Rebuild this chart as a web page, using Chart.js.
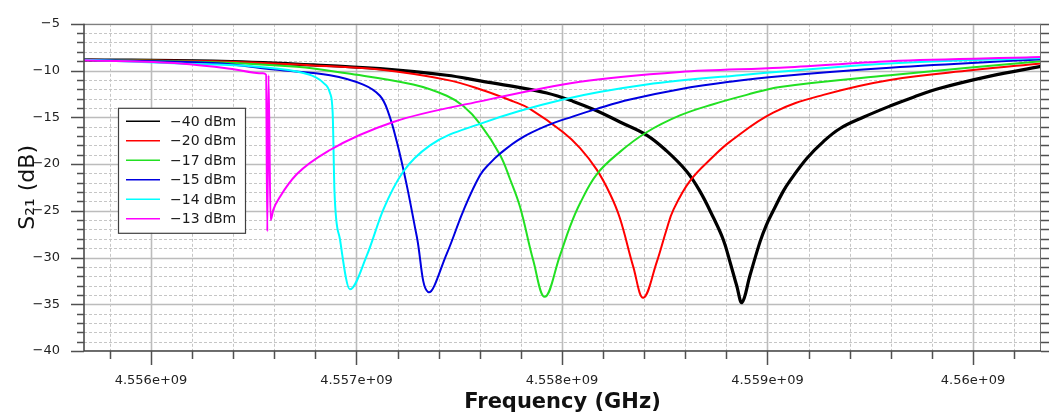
<!DOCTYPE html>
<html>
<head>
<meta charset="utf-8">
<script src="https://cdn.jsdelivr.net/npm/chart.js@4.4.1/dist/chart.umd.min.js"></script>
<style>
html,body{margin:0;padding:0;background:#fff;}
#wrap{position:relative;width:1051px;height:418px;}
</style>
</head>
<body>
<div id="wrap"><canvas id="c" width="1051" height="418"></canvas></div>
<script>
// ---- data (frequency in GHz, S21 in dB) ----
const seriesLabels = ['\u221240 dBm', '\u221220 dBm', '\u221217 dBm', '\u221215 dBm', '\u221214 dBm', '\u221213 dBm'];
const seriesColors = ['#000000', '#ff0000', '#22e022', '#0000e0', '#00ffff', '#ff00ff'];

const s40 = [[4.555674,-8.85],[4.556300,-9.0],[4.556790,-9.4],[4.557114,-9.8],[4.557439,-10.5],[4.557601,-11.1],[4.557763,-11.7],[4.557926,-12.4],[4.558055,-13.3],[4.558169,-14.3],[4.558282,-15.5],[4.558412,-16.9],[4.558509,-18.6],[4.558607,-20.8],[4.558671,-22.9],[4.558736,-25.7],[4.558785,-28.1],[4.558818,-30.5],[4.558850,-33.0],[4.558876,-34.8],[4.558915,-31.9],[4.558964,-28.3],[4.558995,-26.5],[4.559028,-25.0],[4.559077,-22.9],[4.559109,-21.8],[4.559191,-19.4],[4.559272,-17.6],[4.559353,-16.2],[4.559466,-15.0],[4.559596,-13.8],[4.559710,-12.85],[4.559839,-11.9],[4.560083,-10.6],[4.560331,-9.55]];
const s20 = [[4.555674,-8.85],[4.556300,-9.0],[4.556790,-9.45],[4.557114,-9.9],[4.557439,-11.0],[4.557601,-12.0],[4.557763,-13.3],[4.557844,-14.1],[4.558006,-16.6],[4.558088,-18.3],[4.558169,-20.6],[4.558234,-23.2],[4.558282,-25.8],[4.558347,-31.0],[4.558396,-34.3],[4.558461,-30.5],[4.558509,-27.0],[4.558542,-24.9],[4.558623,-21.8],[4.558736,-19.2],[4.558818,-17.6],[4.559028,-14.5],[4.559272,-12.6],[4.559596,-11.0],[4.560001,-9.95],[4.560331,-9.25]];
const s17 = [[4.555674,-8.85],[4.556300,-9.1],[4.556709,-9.6],[4.556952,-10.3],[4.557276,-11.5],[4.557439,-12.7],[4.557520,-13.8],[4.557601,-15.7],[4.557698,-19.0],[4.557747,-21.6],[4.557796,-24.6],[4.557860,-30.3],[4.557917,-34.2],[4.557990,-29.8],[4.558039,-26.7],[4.558088,-24.2],[4.558169,-21.1],[4.558282,-18.7],[4.558412,-16.6],[4.558574,-14.8],[4.558736,-13.6],[4.558899,-12.6],[4.559061,-11.75],[4.559596,-10.5],[4.560331,-9.0]];
const s15 = [[4.555674,-8.85],[4.556300,-9.2],[4.556628,-9.95],[4.556871,-10.5],[4.557033,-11.5],[4.557114,-12.7],[4.557155,-14.5],[4.557196,-17.6],[4.557244,-22.2],[4.557293,-27.7],[4.557349,-33.7],[4.557439,-29.6],[4.557520,-25.0],[4.557601,-21.2],[4.557650,-19.9],[4.557698,-18.9],[4.557796,-17.3],[4.557926,-15.9],[4.558055,-14.9],[4.558169,-14.1],[4.558331,-13.1],[4.558574,-12.0],[4.558818,-11.2],[4.559061,-10.6],[4.559596,-9.7],[4.560331,-8.8]];
const s14 = [[4.555674,-8.85],[4.556141,-9.25],[4.556466,-9.5],[4.556709,-10.1],[4.556800,-10.7],[4.556838,-11.3],[4.556871,-12.4],[4.556884,-14.5],[4.556893,-23.0],[4.556920,-28.1],[4.556968,-33.4],[4.557050,-29.8],[4.557130,-24.9],[4.557228,-20.8],[4.557358,-18.0],[4.557601,-15.7],[4.558006,-13.1],[4.558412,-11.5],[4.558866,-10.5],[4.559596,-9.25],[4.560331,-8.65]];
const s13 = [[4.555674,-8.9],[4.556141,-9.25],[4.556384,-9.8],[4.556545,-10.3],[4.556560,-10.45],[4.556566,-27.2],[4.556572,-10.5],[4.556582,-26.0],[4.556595,-24.9],[4.556628,-23.5],[4.556709,-21.1],[4.556871,-18.5],[4.557179,-15.5],[4.557601,-13.3],[4.558088,-11.2],[4.558574,-10.15],[4.559061,-9.7],[4.559596,-9.0],[4.560331,-8.55]];
const seriesData = [s40, s20, s17, s15, s14, s13];
const seriesSteep = [false, false, false, false, true, true];

const xMin = 4.555674, xMax = 4.560331;
const yMin = -40, yMax = -5;
const xTickValues = [4.556, 4.557, 4.558, 4.559, 4.560];
const xTickLabels = ['4.556e+09', '4.557e+09', '4.558e+09', '4.559e+09', '4.56e+09'];
const yTickValues = [-5, -10, -15, -20, -25, -30, -35, -40];
const xTitle = 'Frequency (GHz)';
const yTitle = 'S\u2082\u2081 (dB)';

// ---- chart ----
const datasets = seriesData.map((d, i) => ({
  label: seriesLabels[i],
  data: d.map(p => ({x: p[0], y: p[1]})),
  borderColor: seriesColors[i],
  backgroundColor: seriesColors[i],
  borderWidth: i === 0 ? 3.2 : 2,
  pointRadius: 0,
  cubicInterpolationMode: seriesSteep[i] ? 'monotone' : 'default',
  tension: 0.4,
  fill: false
}));
datasets.forEach((d, i) => { d.order = datasets.length - i; });

const frame = {
  id: 'frame',
  beforeDatasetsDraw(chart) {
    const ctx = chart.ctx, a = chart.chartArea, xs = chart.scales.x, ys = chart.scales.y;
    ctx.save();
    ctx.beginPath(); ctx.rect(a.left, a.top, a.right - a.left, a.bottom - a.top); ctx.clip();
    for (let v = yMin; v <= yMax; v++) {
      const py = Math.round(ys.getPixelForValue(v)) + 0.5;
      const major = v % 5 === 0;
      ctx.beginPath();
      ctx.setLineDash(major ? [] : [3, 2]);
      ctx.strokeStyle = major ? '#bcbcbc' : '#c6c6c6';
      ctx.lineWidth = major ? 1.6 : 1;
      ctx.moveTo(a.left, py); ctx.lineTo(a.right, py); ctx.stroke();
    }
    for (let n = Math.ceil(xMin * 5000); n / 5000 <= xMax; n++) {
      const px = Math.round(xs.getPixelForValue(n / 5000)) + 0.5;
      const major = n % 5 === 0;
      ctx.beginPath();
      ctx.setLineDash(major ? [] : [3, 2]);
      ctx.strokeStyle = major ? '#bcbcbc' : '#c6c6c6';
      ctx.lineWidth = major ? 1.6 : 1;
      ctx.moveTo(px, a.top); ctx.lineTo(px, a.bottom); ctx.stroke();
    }
    ctx.restore();
  },
  afterDatasetsDraw(chart) {
    const ctx = chart.ctx, a = chart.chartArea, xs = chart.scales.x, ys = chart.scales.y;
    ctx.save();
    ctx.setLineDash([]);
    ctx.strokeStyle = '#707070'; ctx.lineWidth = 1;
    ctx.beginPath();
    ctx.moveTo(a.left, a.top + 0.5); ctx.lineTo(a.right, a.top + 0.5);
    ctx.moveTo(a.right - 0.5, a.top); ctx.lineTo(a.right - 0.5, a.bottom);
    ctx.stroke();
    ctx.strokeStyle = '#404040'; ctx.lineWidth = 1.5;
    ctx.beginPath();
    ctx.moveTo(a.left, a.top); ctx.lineTo(a.left, a.bottom);
    ctx.lineTo(a.right, a.bottom);
    ctx.stroke();
    ctx.strokeStyle = '#505050'; ctx.lineWidth = 1.5;
    ctx.beginPath();
    for (let v = yMin; v <= yMax; v++) {
      const py = Math.round(ys.getPixelForValue(v)) + 0.5;
      const len = v % 5 === 0 ? 13 : 7;
      ctx.moveTo(a.left - len, py); ctx.lineTo(a.left, py);
      ctx.moveTo(a.right, py); ctx.lineTo(a.right + 8, py);
    }
    for (let n = Math.ceil(xMin * 5000); n / 5000 <= xMax; n++) {
      const px = Math.round(xs.getPixelForValue(n / 5000)) + 0.5;
      const len = n % 5 === 0 ? 14 : 8;
      ctx.moveTo(px, a.bottom); ctx.lineTo(px, a.bottom + len);
    }
    ctx.stroke();
    // legend
    const lx = a.left + 34, ly = a.top + 84, lw = 127, lh = 125;
    ctx.fillStyle = '#ffffff';
    ctx.fillRect(lx, ly, lw, lh);
    ctx.strokeStyle = '#404040'; ctx.lineWidth = 1.2;
    ctx.strokeRect(lx + 0.5, ly + 0.5, lw, lh);
    ctx.font = '14px "DejaVu Sans", sans-serif';
    ctx.textBaseline = 'middle'; ctx.textAlign = 'left';
    chart.data.datasets.forEach((d, i) => {
      const ry = ly + 13.5 + i * 19.5;
      ctx.strokeStyle = d.borderColor; ctx.lineWidth = 1.6;
      ctx.beginPath(); ctx.moveTo(lx + 8, ry); ctx.lineTo(lx + 42, ry); ctx.stroke();
      ctx.fillStyle = '#1a1a1a';
      ctx.fillText(d.label, lx + 52, ry + 1);
    });
    // axis titles
    ctx.fillStyle = '#111';
    ctx.font = 'bold 21px "DejaVu Sans", sans-serif';
    ctx.textAlign = 'center'; ctx.textBaseline = 'middle';
    ctx.fillText(xTitle, (a.left + a.right) / 2, 403);
    ctx.save();
    ctx.translate(28, (a.top + a.bottom) / 2);
    ctx.rotate(-Math.PI / 2);
    ctx.font = '22px "DejaVu Sans", sans-serif';
    ctx.fillText(yTitle, 0, 0);
    ctx.restore();
    ctx.restore();
  }
};

new Chart(document.getElementById('c'), {
  type: 'line',
  data: { datasets },
  options: {
    responsive: false,
    animation: false,
    layout: { padding: { left: 0, right: 10, top: 15, bottom: 0 } },
    plugins: { legend: { display: false }, tooltip: { enabled: false } },
    scales: {
      x: {
        type: 'linear', min: xMin, max: xMax,
        grid: { display: false }, border: { display: false },
        afterBuildTicks: s => { s.ticks = xTickValues.map(v => ({ value: v })); },
        afterFit: s => { s.height = 67; },
        ticks: {
          autoSkip: false, maxRotation: 0, padding: 14, color: '#222',
          font: { family: '"DejaVu Sans", sans-serif', size: 13 },
          callback: (v, i) => xTickLabels[i]
        }
      },
      y: {
        type: 'linear', min: yMin, max: yMax,
        grid: { display: false }, border: { display: false },
        afterBuildTicks: s => { s.ticks = yTickValues.map(v => ({ value: v })); },
        afterFit: s => { s.width = 84; },
        ticks: {
          autoSkip: false, padding: 16, color: '#222',
          font: { family: '"DejaVu Sans", sans-serif', size: 13 },
          callback: v => (v < 0 ? '\u2212' : '') + Math.abs(v)
        }
      }
    }
  },
  plugins: [frame]
});
</script>
</body>
</html>
